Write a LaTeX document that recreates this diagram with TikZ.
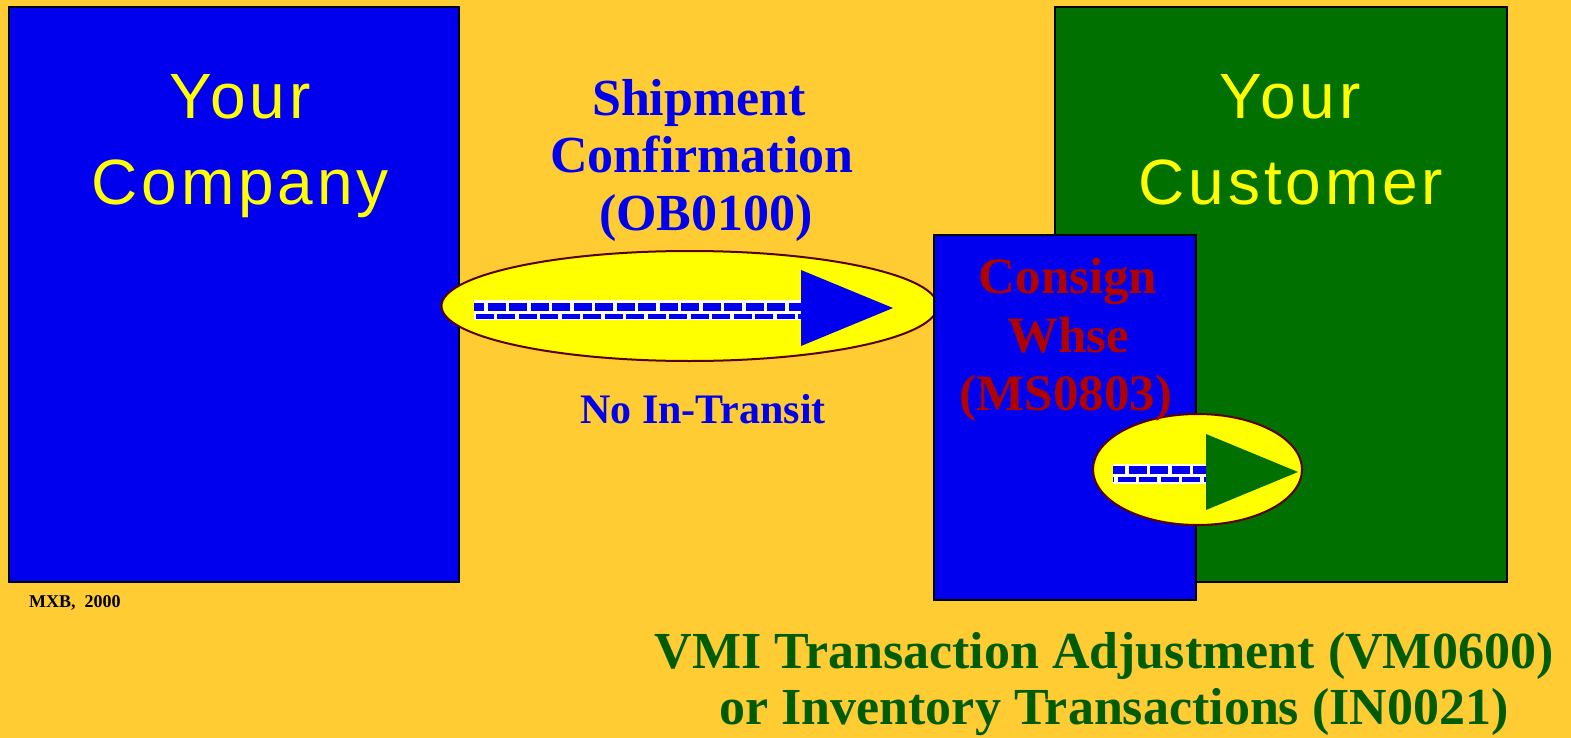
\documentclass[tikz,border=0pt]{standalone}
\usepackage{fontspec}
\setmainfont{Liberation Serif}
\newfontfamily\boxfont[LetterSpace=6]{Liberation Sans}
\definecolor{bgorange}{HTML}{FFCC33}
\definecolor{myblue}{HTML}{0000EE}
\definecolor{mygreen}{HTML}{007000}
\definecolor{darkgreen}{HTML}{005C00}
\definecolor{myred}{HTML}{B00000}
\definecolor{rim}{HTML}{5A0000}
\definecolor{myyellow}{HTML}{FFFF00}
\tikzset{
  panel/.style={draw=black, line width=2pt},
  oval/.style={draw=rim, line width=2pt, fill=myyellow},
  bigtxt/.style={font=\boxfont\fontsize{64}{64}\selectfont, text=myyellow, anchor=base, inner sep=0pt},
  bluetxt/.style={font=\bfseries\fontsize{52}{52}\selectfont, text=myblue, anchor=base, inner sep=0pt},
  redtxt/.style={font=\bfseries\fontsize{51}{51}\selectfont, text=myred, anchor=base, inner sep=0pt},
  greentxt/.style={font=\bfseries\fontsize{52}{52}\selectfont, text=darkgreen, anchor=base, inner sep=0pt},
  dashrow/.style={draw=myblue, dash pattern=on 18pt off 3.5pt},
}
\begin{document}
\begin{tikzpicture}[x=1pt, y=-1pt]
\fill[bgorange] (0,0) rectangle (1571,738);
\useasboundingbox (0,0) rectangle (1571,738);

% left company box
\draw[panel, fill=myblue] (9,7) rectangle (459,582);
% big ellipse
\draw[oval] (689.5,306) ellipse [x radius=248, y radius=55];
% shaft
\fill[white] (474,300) rectangle (802,319.5);
\draw[dashrow, line width=8pt, dash phase=8pt] (474,307) -- (801,307);
\draw[dashrow, line width=5.5pt, dash phase=19.8pt] (474,316.5) -- (801,316.5);
\fill[myblue] (801,270) -- (893,308) -- (801,346) -- cycle;

% customer box
\draw[panel, fill=mygreen] (1055,7) rectangle (1507,582);
% consign box
\draw[panel, fill=myblue] (934,235) rectangle (1196,600);
% small ellipse
\draw[oval] (1197.5,469.5) ellipse [x radius=104.5, y radius=55.5];
\fill[white] (1113,464) rectangle (1207,483.5);
\draw[dashrow, line width=8pt, dash phase=6pt] (1113,470) -- (1206,470);
\draw[dashrow, line width=5.5pt, dash phase=17pt] (1113,479.5) -- (1206,479.5);
\fill[mygreen] (1206,434) -- (1298,472) -- (1206,510) -- cycle;

% texts
\node[bigtxt] (yc1) at (240,119) {Your};
\node[bigtxt] (yc2) at (240,205) {Company};
\node[bigtxt] (cu1) at (1290,119) {Your};
\node[bigtxt] (cu2) at (1291,205) {Customer};

\node[bluetxt] (sh1) at (699,116) {Shipment};
\node[bluetxt] (sh2) at (702,173) {Confirmation};
\node[bluetxt] (sh3) at (706,230) {(OB0100)};
\node[bluetxt, font=\bfseries\fontsize{42}{42}\selectfont] (nit) at (703,423) {No In-Transit};

\node[redtxt] (cw1) at (1068,293) {Consign};
\node[redtxt] (cw2) at (1068,352) {Whse};
\node[redtxt] (cw3) at (1066,410) {(MS0803)};

\node[greentxt] (vm1) at (1104,668) {VMI Transaction Adjustment (VM0600)};
\node[greentxt] (vm2) at (1114,724) {or Inventory Transactions (IN0021)};

\node[font=\bfseries\fontsize{18}{18}\selectfont, anchor=base west, inner sep=0pt] (mxb) at (29,607) {MXB,\ \ 2000};
\end{tikzpicture}
\end{document}
